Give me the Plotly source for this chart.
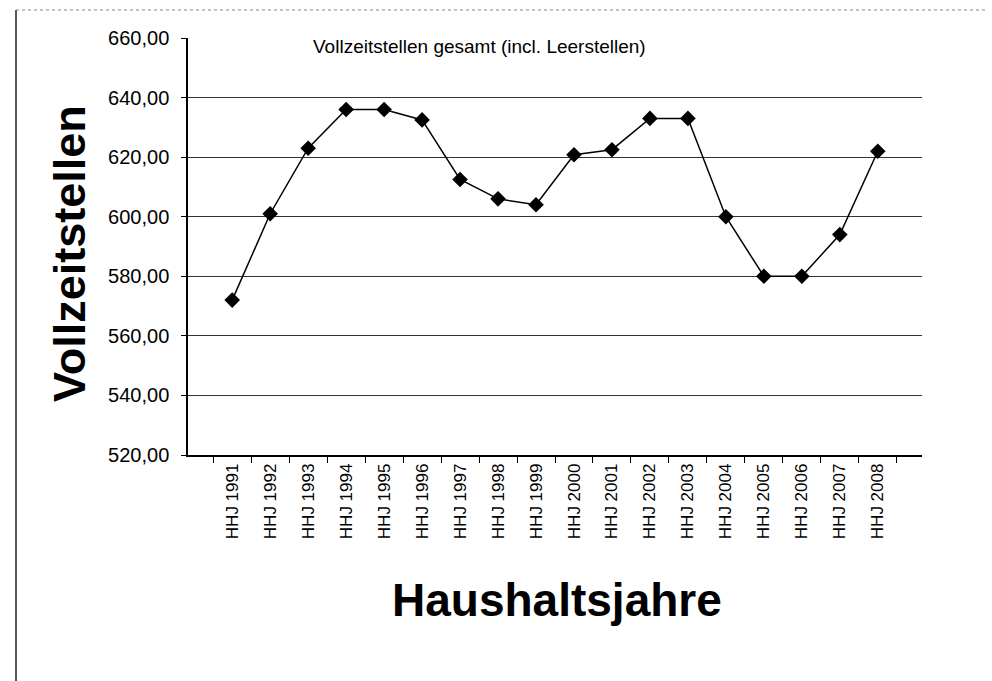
import plotly.graph_objects as go

years = ["HHJ 1991", "HHJ 1992", "HHJ 1993", "HHJ 1994", "HHJ 1995", "HHJ 1996",
         "HHJ 1997", "HHJ 1998", "HHJ 1999", "HHJ 2000", "HHJ 2001", "HHJ 2002",
         "HHJ 2003", "HHJ 2004", "HHJ 2005", "HHJ 2006", "HHJ 2007", "HHJ 2008"]
stellen = [572.0, 601.0, 623.0, 636.0, 636.0, 632.5,
           612.5, 606.0, 604.0, 620.8, 622.5, 633.0,
           633.0, 600.0, 580.0, 580.0, 594.0, 622.0]
y_ticks = [520, 540, 560, 580, 600, 620, 640, 660]

FONT = "Arial, 'Liberation Sans', sans-serif"

fig = go.Figure()
fig.add_trace(go.Scatter(
    x=years, y=stellen, mode="lines+markers",
    line=dict(color="black", width=1.5),
    marker=dict(symbol="diamond", size=12, color="black"),
    showlegend=False,
))

W, H = 992, 681
L, R, T, B = 188, 70, 38, 226
pw, ph = W - L - R, H - T - B

def px_x(x):
    return (x - L) / pw

def px_y(y):
    return (H - B - y) / ph

fig.update_layout(
    width=W, height=H,
    margin=dict(l=L, r=R, t=T, b=B),
    paper_bgcolor="white", plot_bgcolor="white",
    separators=",.",
    font=dict(family=FONT, color="black"),
    xaxis=dict(
        type="category", tickangle=-90, tickson="boundaries",
        ticks="outside", ticklen=6, tickcolor="black",
        showline=True, linecolor="black", linewidth=1.5,
        showgrid=False, tickfont=dict(size=17, family=FONT),
    ),
    yaxis=dict(
        range=[520, 660], tickvals=y_ticks, tickformat=".2f",
        ticks="outside", ticklen=5, tickcolor="black",
        ticklabelstandoff=8,
        showline=True, linecolor="black", linewidth=1.5,
        showgrid=True, gridcolor="#333333", gridwidth=1,
        zeroline=False, tickfont=dict(size=20, family=FONT),
    ),
    annotations=[
        dict(text="Vollzeitstellen gesamt (incl. Leerstellen)",
             xref="paper", yref="paper", x=px_x(479), y=px_y(47),
             xanchor="center", yanchor="middle", showarrow=False,
             font=dict(size=19, family=FONT, color="black")),
        dict(text="<b>Vollzeitstellen</b>",
             xref="paper", yref="paper", x=px_x(69), y=px_y(254),
             xanchor="center", yanchor="middle", showarrow=False, textangle=-90,
             font=dict(size=45, family=FONT, color="black")),
        dict(text="<b>Haushaltsjahre</b>",
             xref="paper", yref="paper", x=px_x(557), y=px_y(600),
             xanchor="center", yanchor="middle", showarrow=False,
             font=dict(size=46, family=FONT, color="black")),
    ],
    shapes=[
        dict(type="line", xref="paper", yref="paper",
             x0=px_x(16), x1=px_x(16), y0=px_y(10), y1=px_y(681),
             line=dict(color="#222222", width=1.5)),
        dict(type="line", xref="paper", yref="paper",
             x0=px_x(16), x1=px_x(985), y0=px_y(10), y1=px_y(10),
             line=dict(color="#888888", width=1, dash="dot")),
    ],
)

fig.write_html("out.html",
               config={"displayModeBar": False},
               post_script="document.body.style.margin='0';document.body.style.overflow='hidden';")
